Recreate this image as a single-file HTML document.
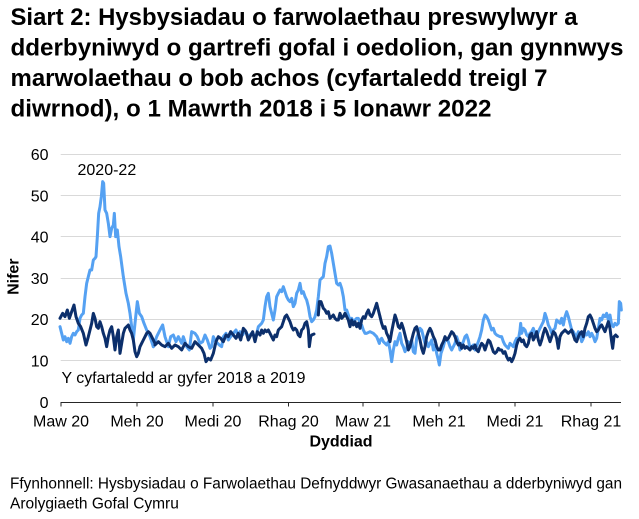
<!DOCTYPE html>
<html>
<head>
<meta charset="utf-8">
<style>
html,body{margin:0;padding:0;background:#fff;}
svg{display:block;}
</style>
</head>
<body>
<svg width="639" height="519" viewBox="0 0 639 519" xmlns="http://www.w3.org/2000/svg" font-family="'Liberation Sans', Arial, sans-serif">
  <rect width="639" height="519" fill="#fff"/>

  <!-- Title -->
  <g font-size="24" font-weight="bold" fill="#000">
    <text x="10.5" y="25" textLength="567" lengthAdjust="spacingAndGlyphs">Siart 2: Hysbysiadau o farwolaethau preswylwyr a</text>
    <text x="10.5" y="55.5" textLength="613" lengthAdjust="spacingAndGlyphs">dderbyniwyd o gartrefi gofal i oedolion, gan gynnwys</text>
    <text x="10.5" y="86" textLength="537" lengthAdjust="spacingAndGlyphs">marwolaethau o bob achos (cyfartaledd treigl 7</text>
    <text x="10.5" y="116.5" textLength="481" lengthAdjust="spacingAndGlyphs">diwrnod), o 1 Mawrth 2018 i 5 Ionawr 2022</text>
  </g>

  <!-- Gridlines -->
  <g stroke="#d9d9d9" stroke-width="1">
    <line x1="60.7" y1="154.5" x2="621" y2="154.5"/>
    <line x1="60.7" y1="195.5" x2="621" y2="195.5"/>
    <line x1="60.7" y1="236.5" x2="621" y2="236.5"/>
    <line x1="60.7" y1="278.5" x2="621" y2="278.5"/>
    <line x1="60.7" y1="319.5" x2="621" y2="319.5"/>
    <line x1="60.7" y1="360.5" x2="621" y2="360.5"/>
  </g>

  <!-- Y tick labels -->
  <g font-size="16" fill="#000" text-anchor="end">
    <text x="48.5" y="160">60</text>
    <text x="48.5" y="201.5">50</text>
    <text x="48.5" y="242.5">40</text>
    <text x="48.5" y="284">30</text>
    <text x="48.5" y="325">20</text>
    <text x="48.5" y="366.5">10</text>
    <text x="48.5" y="408">0</text>
  </g>

  <!-- Y axis title -->
  <text transform="translate(18.5,276.7) rotate(-90)" text-anchor="middle" font-size="16" font-weight="bold" fill="#000">Nifer</text>

  <!-- Light blue series (2020-22) -->
  <g fill="none" stroke="#55a1f2" stroke-width="3" stroke-linejoin="round" stroke-linecap="round">
    <polyline vector-effect="non-scaling-stroke" transform="translate(60,170) scale(0.33333)" points="0,470 5,490 10,510 15,500 20,515 25,505 30,520 35,500 40,490 45,495 50,485 55,480 60,445 65,435 70,430 75,380 80,340 85,320 90,300 95,300 100,270 105,265 108,260 112,200 116,130 120,110 124,80 128,35 131,40 133,80 135,120 140,130 145,160 150,200 155,175 160,165 163,130 167,200 172,180 177,230 182,260 190,320 198,370 205,400 210,430 215,470 220,510 225,460 232,395 238,430 245,440 252,460 260,480 270,500 280,530"/>
    <polyline vector-effect="non-scaling-stroke" transform="translate(150,270) scale(0.33333)" points="10,230 20,200 30,180 38,165 45,200 55,230 62,200 70,195 78,215 85,200 95,220 100,200 110,230 118,240 125,185 135,190 142,200 150,220 158,215 165,195 172,210 180,235 185,230 190,200 198,215 208,225 215,230 220,200 228,190 235,210 242,200 250,190 258,180 265,200 270,185 278,195 285,180 295,200 305,190 318,200 325,170 330,165"/>
    <polyline vector-effect="non-scaling-stroke" transform="translate(260,230) scale(0.33333)" points="0,285 5,280 10,270 15,230 20,200 25,190 30,230 35,250 40,270 45,240 50,200 55,190 60,180 65,185 70,170 75,185 80,200 85,210 90,215 95,205 100,230 105,220 110,190 115,180 120,160 125,190 130,185 135,200 140,210 145,230 150,260 155,275 160,270 165,260 170,240 175,200 180,150 185,145 190,140 195,100 200,80 205,50 210,48 215,70 220,100 225,130 230,160 235,165 240,160 245,175 250,200 255,240 260,240 265,255 270,270 275,265 280,275 285,270 290,265 295,265 300,280 305,285 310,300 315,310 320,310 330,305 340,310 350,320 358,340"/>
    <polyline vector-effect="non-scaling-stroke" transform="translate(375,270) scale(0.33333)" points="13,220 15,210 20,205 25,215 30,220 35,225 40,215 45,240 50,275 55,240 60,215 65,225 70,205 75,190 80,220 85,230 90,245 95,235 100,215 105,230 110,210 115,245 120,250 125,205 130,190 135,175 140,180 145,200 150,220 155,215 160,230 165,220 170,210 175,240 180,225 185,250 190,270 193,285 198,250 205,230 210,210 215,205 220,215 225,230 230,240 240,220 245,200 250,215 255,240 260,225 265,215 270,200 275,195 280,210 285,235 290,230 295,225 300,240 310,215 315,200 320,180 325,150 330,135 335,140 340,150 345,165 350,180 355,175 360,190 365,195 375,200"/>
    <polyline vector-effect="non-scaling-stroke" transform="translate(500,270) scale(0.33333)" points="0,200 5,200 10,215 15,225 20,230 25,235 30,220 35,225 40,230 45,215 50,205 55,210 60,180 62,160 65,190 70,175 75,180 80,195 85,200 90,190 95,185 100,175 105,190 110,200 115,185 120,175 125,165 130,155 135,130 140,145 145,165 150,175 155,190 160,180 165,175 170,150 175,155 180,160 185,145 190,165 195,140 200,125 205,140 210,160 215,180 220,185 225,195 230,200 235,185 240,195 245,215 250,205 255,190 260,195 265,185 270,200 275,190 280,200 285,215 290,205 295,175 300,145 305,150 310,135 315,140 320,130 325,150 330,135 335,165 340,170 345,160 350,165 355,160 358,95 362,100 364,120"/>
  </g>

  <!-- Dark navy series (average 2018 & 2019) -->
  <g fill="none" stroke="#0c2f6b" stroke-width="3" stroke-linejoin="round" stroke-linecap="round">
    <polyline vector-effect="non-scaling-stroke" transform="translate(60,170) scale(0.33333)" points="0,445 8,430 15,440 22,420 28,445 35,425 42,405 48,440 55,460 62,470 70,490 78,525 85,500 90,480 95,460 100,430 105,445 110,470 115,475 120,455 125,470 130,490 135,505 140,530 145,500 150,480 155,470 160,500 165,540 170,500 175,480 180,550 185,520 190,490 195,475 200,470 205,465 210,480 215,490 220,510 225,545 230,560 235,550 240,530 245,520 250,510 255,500 260,490 265,485 270,490 275,500 280,510 285,520"/>
    <polyline vector-effect="non-scaling-stroke" transform="translate(150,270) scale(0.33333)" points="15,225 25,215 35,225 45,230 55,220 65,235 75,225 85,230 95,240 105,220 115,230 125,235 135,215 145,225 155,235 162,250 168,275 175,265 182,270 190,250 198,215 205,200 212,205 220,215 228,195 235,200 242,185 250,195 258,205 265,190 272,210 280,175 288,185 295,210 300,200 308,185 315,215 322,185 330,195"/>
    <polyline vector-effect="non-scaling-stroke" transform="translate(260,230) scale(0.33333)" points="0,315 5,300 10,310 15,300 20,305 25,300 30,310 35,320 40,330 45,315 50,320 55,300 60,295 65,290 70,275 75,260 80,255 85,265 90,275 95,290 100,300 105,295 110,300 115,315 120,320 125,300 130,295 135,280 140,275 145,300 148,350 152,320 155,315 162,312"/>
    <polyline vector-effect="non-scaling-stroke" transform="translate(260,230) scale(0.33333)" points="175,255 178,215 183,215 190,235 195,240 200,250 205,245 210,265 215,260 220,255 225,265 230,270 235,270 240,250 245,265 250,260 255,250 260,260 265,270 270,290 275,270 280,285 285,275 290,290 295,280 300,295 305,270 310,260 315,265 320,250 325,240 330,255 335,260 340,250 345,235 350,220 355,240 360,260"/>
    <polyline vector-effect="non-scaling-stroke" transform="translate(375,270) scale(0.33333)" points="15,140 20,160 25,175 30,170 35,190 40,200 45,215 50,185 55,160 60,135 65,150 70,170 75,175 80,160 85,175 90,195 95,215 100,240 105,230 110,210 115,190 120,175 125,170 130,190 135,210 140,235 145,250 150,230 155,200 160,185 165,175 170,185 175,200 180,210 185,230 190,240 195,240 200,225 205,215 210,200 215,210 220,205 225,195 230,185 235,190 240,200 245,215 250,225 255,220 260,235 265,225 270,235 275,230 280,235 285,240 290,230 295,235 300,225 305,240 310,245 315,230 320,220 325,225 330,240 335,225 340,210 345,215 350,230 355,245 360,250 365,245 370,235 375,240"/>
    <polyline vector-effect="non-scaling-stroke" transform="translate(500,270) scale(0.33333)" points="0,240 5,240 10,250 15,245 20,260 25,270 30,265 35,275 40,265 45,250 50,225 55,210 60,205 65,215 70,210 75,225 80,230 85,220 90,195 95,190 100,210 105,200 110,185 115,210 120,225 125,210 130,190 135,175 140,185 145,200 150,215 155,200 160,185 165,190 170,205 175,235 180,200 185,190 190,185 195,180 200,185 205,190 210,185 215,180 220,195 225,210 230,215 235,200 240,190 245,185 250,200 255,175 260,160 265,140 270,135 275,145 280,160 285,175 290,185 295,180 300,170 305,165 310,175 315,185 320,170 325,155 330,175 335,215 338,235 342,200 347,195 352,200"/>
  </g>

  <!-- Series labels -->
  <text x="77.5" y="175" font-size="16" fill="#000">2020-22</text>
  <text x="61.5" y="383" font-size="16" fill="#000" textLength="244" lengthAdjust="spacingAndGlyphs">Y cyfartaledd ar gyfer 2018 a 2019</text>

  <!-- X axis -->
  <line x1="60.7" y1="402.5" x2="621" y2="402.5" stroke="#262626" stroke-width="1"/>
  <g stroke="#262626" stroke-width="1">
    <line x1="61" y1="402" x2="61" y2="406.5"/>
    <line x1="137" y1="402" x2="137" y2="406.5"/>
    <line x1="213" y1="402" x2="213" y2="406.5"/>
    <line x1="288.5" y1="402" x2="288.5" y2="406.5"/>
    <line x1="363" y1="402" x2="363" y2="406.5"/>
    <line x1="439" y1="402" x2="439" y2="406.5"/>
    <line x1="515" y1="402" x2="515" y2="406.5"/>
    <line x1="591" y1="402" x2="591" y2="406.5"/>
  </g>
  <g font-size="16" fill="#000" text-anchor="middle">
    <text x="61" y="426.7">Maw 20</text>
    <text x="137" y="426.7">Meh 20</text>
    <text x="213" y="426.7">Medi 20</text>
    <text x="288.5" y="426.7">Rhag 20</text>
    <text x="363" y="426.7">Maw 21</text>
    <text x="439" y="426.7">Meh 21</text>
    <text x="515" y="426.7">Medi 21</text>
    <text x="591" y="426.7">Rhag 21</text>
  </g>
  <text x="341" y="446.5" font-size="16" font-weight="bold" fill="#000" text-anchor="middle">Dyddiad</text>

  <!-- Footnote -->
  <g font-size="15.5" fill="#000">
    <text x="10" y="488.3" textLength="612" lengthAdjust="spacingAndGlyphs">Ffynhonnell: Hysbysiadau o Farwolaethau Defnyddwyr Gwasanaethau a dderbyniwyd gan</text>
    <text x="10" y="508.3">Arolygiaeth Gofal Cymru</text>
  </g>
</svg>
</body>
</html>
